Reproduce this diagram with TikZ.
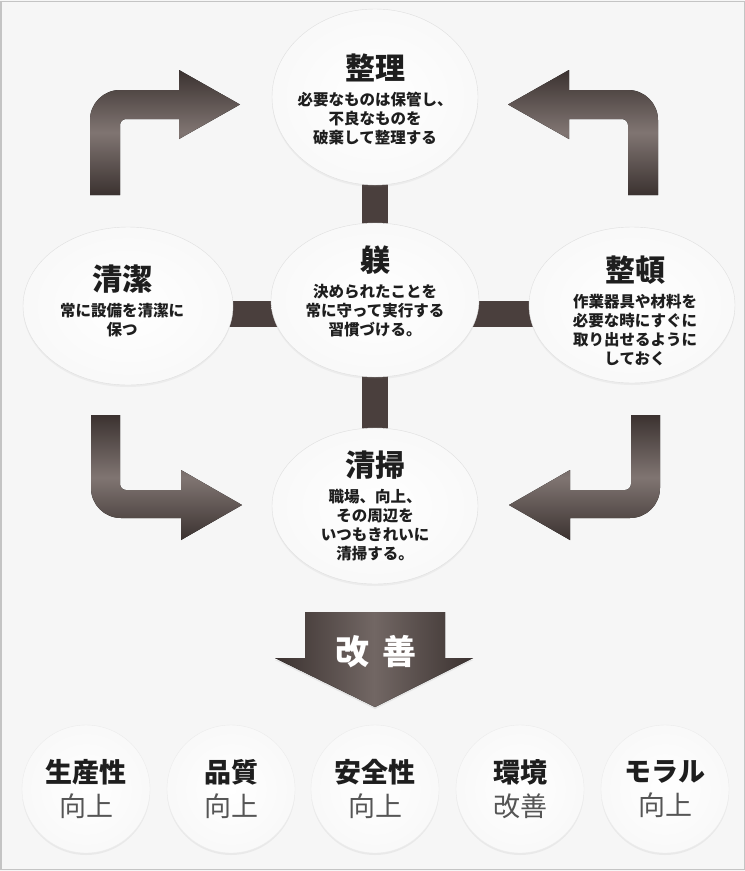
\documentclass[tikz,border=0pt]{standalone}
\usepackage{fontspec}
\setmainfont{Noto Sans CJK JP}
\usetikzlibrary{positioning,shapes.geometric,shadows}
\definecolor{bgpaper}{HTML}{F6F6F6}
\definecolor{framegray}{HTML}{C4C4C4}
\definecolor{bardark}{HTML}{4A3F3D}
\definecolor{arrowdark}{HTML}{3B3230}
\definecolor{arrowlight}{HTML}{807572}
\definecolor{arrowmid}{HTML}{726764}
\definecolor{inkdark}{HTML}{1E1E1E}
\definecolor{subgray}{HTML}{555555}
\pgfdeclarelayer{background}
\pgfsetlayers{background,main}
\begin{document}
\begin{tikzpicture}[
        x=1pt, y=-1pt,
        node distance=10pt,
        principle/.style={ellipse, draw=gray!25, inner sep=0pt, inner color=white, outer color=gray!5,
            drop shadow={opacity=0.08, shadow xshift=0pt, shadow yshift=-2pt}},
        ttl/.style={inner sep=0pt, text=inkdark, font=\fontsize{30}{34}\selectfont\bfseries},
        desc/.style={inner sep=0pt, align=center, text=inkdark, font=\fontsize{15.5}{19}\selectfont\bfseries},
        result/.style={circle, minimum size=128pt, inner sep=0pt, draw=gray!15, inner color=white, outer color=gray!5,
            drop shadow={opacity=0.1, shadow xshift=0pt, shadow yshift=-2pt},
            align=center, text=inkdark, font=\fontsize{27}{34}\selectfont},
        bar/.style={line width=26pt, bardark},
        turn/.style={top color=arrowdark, bottom color=arrowdark, middle color=arrowlight}
    ]
        \useasboundingbox (0,0) rectangle (745,871);

        % five principles
        \node[principle, minimum width=206pt, minimum height=176pt] (seiri) at (375,97) {};
        \node[principle, minimum width=208pt, minimum height=154pt] (shitsuke) at (375,300) {};
        \node[principle, minimum width=210pt, minimum height=158pt] (seiketsu) at (128,306) {};
        \node[principle, minimum width=206pt, minimum height=156pt] (seiton) at (632,305) {};
        \node[principle, minimum width=206pt, minimum height=156pt] (seisou) at (375,506) {};

        \node[ttl] (seiri-t) at (375,68) {整理};
        \node[desc, below=of seiri-t] (seiri-d) {必要なものは保管し、\\不良なものを\\破棄して整理する};
        \node[ttl] (shitsuke-t) at (375,260) {躾};
        \node[desc, below=of shitsuke-t] (shitsuke-d) {決められたことを\\常に守って実行する\\習慣づける。};
        \node[ttl] (seiketsu-t) at (122,279) {清潔};
        \node[desc, below=of seiketsu-t] (seiketsu-d) {常に設備を清潔に\\保つ};
        \node[ttl] (seiton-t) at (635,270) {整頓};
        \node[desc, below=of seiton-t] (seiton-d) {作業器具や材料を\\必要な時にすぐに\\取り出せるように\\しておく};
        \node[ttl] (seisou-t) at (375,465) {清掃};
        \node[desc, below=of seisou-t] (seisou-d) {職場、向上、\\その周辺を\\いつもきれいに\\清掃する。};

        % links behind the ellipses
        \coordinate (midrow) at (375,314);
        \begin{pgfonlayer}{background}
            \fill[bgpaper] (0,0) rectangle (745,871);
            \draw[bar] (seiri.center) -- (seisou.center);
            \draw[bar] (seiketsu.center |- midrow) -- (seiton.center |- midrow);
        \end{pgfonlayer}

        % turning arrows
        \fill[turn] (90,195) -- (90,120) .. controls (90,103.4) and (103.4,90) .. (120,90) -- (179,90) -- (179,70)
            -- (240,104.5) -- (179,139) -- (179,119) -- (126,119) .. controls (122.7,119) and (120,121.7) .. (120,125) -- (120,195) -- cycle;
        \fill[turn] (658,195) -- (658,120) .. controls (658,103.4) and (644.6,90) .. (628,90) -- (569,90) -- (569,70)
            -- (508,104.5) -- (569,139) -- (569,119) -- (622,119) .. controls (625.3,119) and (628,121.7) .. (628,125) -- (628,195) -- cycle;
        \fill[turn] (91,415) -- (91,488) .. controls (91,504.6) and (104.4,518) .. (121,518) -- (181,518) -- (181,540)
            -- (242,505) -- (181,470) -- (181,490) -- (126,490) .. controls (122.7,490) and (120,487.3) .. (120,484) -- (120,415) -- cycle;
        \fill[turn] (660,415) -- (660,488) .. controls (660,504.6) and (646.6,518) .. (630,518) -- (570,518) -- (570,540)
            -- (509,505) -- (570,470) -- (570,490) -- (625,490) .. controls (628.3,490) and (631,487.3) .. (631,484) -- (631,415) -- cycle;

        % improvement arrow
        \fill[left color=arrowdark, right color=arrowdark, middle color=arrowmid,
            drop shadow={opacity=0.15, shadow xshift=0pt, shadow yshift=-2pt}]
            (305,612) -- (445,612) -- (445,658) -- (473,658) -- (375,707) -- (275,658) -- (305,658) -- cycle;
        \node[text=white, font=\fontsize{34}{36}\selectfont\bfseries] (kaizen) at (376,652) {改\hspace{13pt}善};

        % results
        \foreach \x/\lineA/\lineB/\n in {86/生産性/向上/prod, 231/品質/向上/qual, 375/安全性/向上/safe, 520/環境/改善/env, 665/モラル/向上/morale}
        {
            \node[result] (\n) at (\x,789) {\textbf{\lineA}\\\textcolor{subgray}{\lineB}};
        }

        \draw[framegray, line width=1.5pt] (0.75,1.5) rectangle (744.25,869.5);
    \end{tikzpicture}
\end{document}
